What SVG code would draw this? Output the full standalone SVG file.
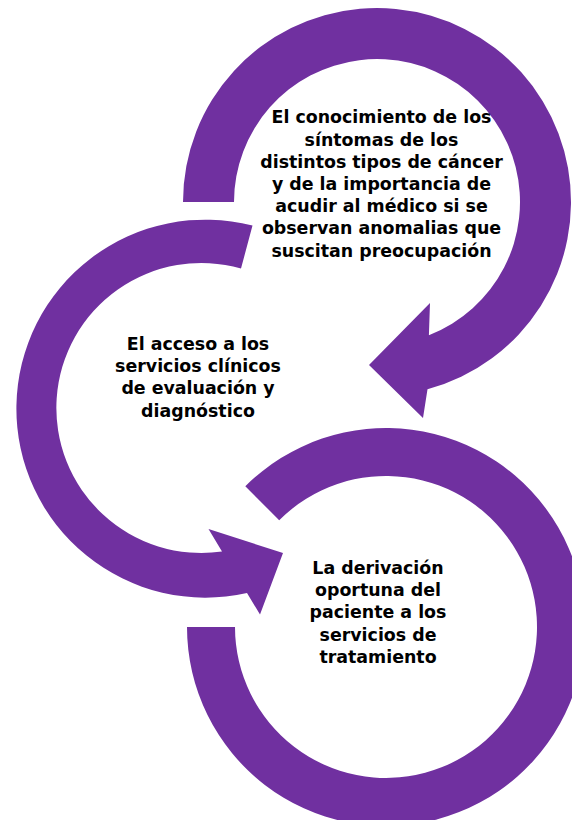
<svg xmlns="http://www.w3.org/2000/svg" width="572" height="820" viewBox="0 0 572 820">
<style>
.ring{fill:#7030A0;stroke:none}
.lbl{font-family:"DejaVu Sans","Open Sans",sans-serif;font-weight:700;font-size:17.4px;fill:#000;text-anchor:middle}
</style>
<rect width="572" height="820" fill="#fff"/>
<g id="node1">
<path class="ring" d="M183,202 A194,194 0 1 1 427.5,389.3 L423,418 L369,365 L430,303 L428.9,335.3 A143,143 0 1 0 234,202 Z"/>
<text class="lbl" x="381.5" y="123.3">El conocimiento de los</text>
<text class="lbl" x="381.5" y="145.5">síntomas de los</text>
<text class="lbl" x="381.5" y="167.7">distintos tipos de cáncer</text>
<text class="lbl" x="381.5" y="190">y de la importancia de</text>
<text class="lbl" x="381.5" y="212.2">acudir al médico si se</text>
<text class="lbl" x="381.5" y="234.4">observan anomalias que</text>
<text class="lbl" x="381.5" y="256.6">suscitan preocupación</text>
</g>
<g id="node2">
<path class="ring" d="M252.5,225.6 A189,189 0 1 0 247,593 L260,614.5 L283,553 L208.5,529 L222,551.5 A145,145 0 1 1 241,268.5 Z"/>
<text class="lbl" x="198" y="350">El acceso a los</text>
<text class="lbl" x="198" y="372.2">servicios clínicos</text>
<text class="lbl" x="198" y="394.4">de evaluación y</text>
<text class="lbl" x="198" y="416.6">diagnóstico</text>
</g>
<g id="node3">
<path class="ring" d="M245.3,486.3 A199,199 0 1 1 187,627 L235,627 A151,151 0 1 0 279.2,520.2 Z"/>
<text class="lbl" x="378" y="574">La derivación</text>
<text class="lbl" x="378" y="596.2">oportuna del</text>
<text class="lbl" x="378" y="618.4">paciente a los</text>
<text class="lbl" x="378" y="640.6">servicios de</text>
<text class="lbl" x="378" y="662.8">tratamiento</text>
</g>
<g id="connectors"/>
</svg>
